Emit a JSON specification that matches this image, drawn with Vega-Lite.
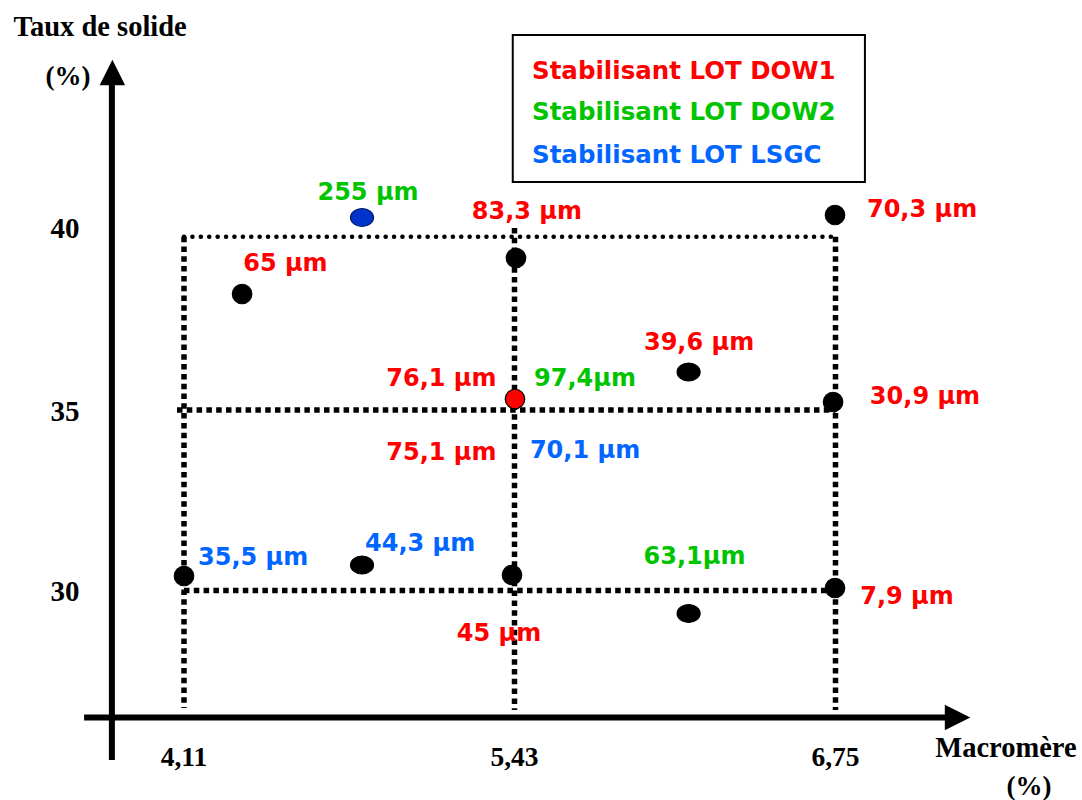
{
  "$schema": "https://vega.github.io/schema/vega-lite/v6.json",
  "width": 1082,
  "height": 800,
  "autosize": "none",
  "padding": 0,
  "background": "white",
  "config": {"view": {"stroke": null}},
  "datasets": {
    "axes": [
      {"x": 3.822, "y": 44.377, "x2": 3.822, "y2": 25.305},
      {"x": 3.711, "y": 26.482, "x2": 7.204, "y2": 26.482}
    ],
    "fleches": [
      {"x": 3.824, "y": 44.737, "sens": "haut"},
      {"x": 7.252, "y": 26.482, "sens": "droite"}
    ],
    "pointilles": [
      {"x": 4.11, "y": 40, "x2": 6.75, "y2": 40}
    ],
    "tirets": [
      {"x": 4.082, "y": 35, "x2": 6.75, "y2": 35},
      {"x": 4.11, "y": 30, "x2": 6.75, "y2": 30},
      {"x": 4.11, "y": 40, "x2": 4.11, "y2": 26.745},
      {"x": 5.43, "y": 40.251, "x2": 5.43, "y2": 26.69},
      {"x": 6.75, "y": 40, "x2": 6.75, "y2": 26.69}
    ],
    "points": [
      {"x": 4.342, "y": 38.347, "forme": "rond", "lot": "aucun"},
      {"x": 4.821, "y": 40.554, "forme": "ovale", "lot": "LSGC"},
      {"x": 5.436, "y": 39.385, "forme": "rond", "lot": "aucun"},
      {"x": 6.748, "y": 40.626, "forme": "rond", "lot": "aucun"},
      {"x": 6.146, "y": 36.096, "forme": "ovale", "lot": "aucun"},
      {"x": 5.432, "y": 35.317, "forme": "rond", "lot": "DOW1"},
      {"x": 6.740, "y": 35.231, "forme": "rond", "lot": "aucun"},
      {"x": 4.11, "y": 30.402, "forme": "rond", "lot": "aucun"},
      {"x": 4.821, "y": 30.706, "forme": "ovale", "lot": "aucun"},
      {"x": 5.420, "y": 30.429, "forme": "rond", "lot": "aucun"},
      {"x": 6.146, "y": 29.363, "forme": "ovale", "lot": "aucun"},
      {"x": 6.748, "y": 30.069, "forme": "rond", "lot": "aucun"}
    ],
    "etiquettes": [
      {"x": 4.515, "y": 39.256, "texte": "65 µm", "lot": "DOW1"},
      {"x": 4.845, "y": 41.290, "texte": "255 µm", "lot": "DOW2"},
      {"x": 5.481, "y": 40.770, "texte": "83,3 µm", "lot": "DOW1"},
      {"x": 7.106, "y": 40.828, "texte": "70,3 µm", "lot": "DOW1"},
      {"x": 6.189, "y": 36.962, "texte": "39,6 µm", "lot": "DOW1"},
      {"x": 7.118, "y": 35.404, "texte": "30,9 µm", "lot": "DOW1"},
      {"x": 5.138, "y": 35.952, "texte": "76,1 µm", "lot": "DOW1"},
      {"x": 5.720, "y": 35.952, "texte": "97,4µm", "lot": "DOW2"},
      {"x": 5.138, "y": 33.864, "texte": "75,1 µm", "lot": "DOW1"},
      {"x": 5.720, "y": 33.906, "texte": "70,1 µm", "lot": "LSGC"},
      {"x": 4.386, "y": 30.928, "texte": "35,5 µm", "lot": "LSGC"},
      {"x": 5.053, "y": 31.343, "texte": "44,3 µm", "lot": "LSGC"},
      {"x": 5.368, "y": 28.823, "texte": "45 µm", "lot": "DOW1"},
      {"x": 6.170, "y": 30.983, "texte": "63,1µm", "lot": "DOW2"},
      {"x": 7.044, "y": 29.875, "texte": "7,9 µm", "lot": "DOW1"}
    ],
    "cadre": [
      {"x": 5.423, "y": 45.819, "x2": 6.871, "y2": 41.578}
    ],
    "legende": [
      {"x": 5.502, "y": 44.781, "texte": "Stabilisant LOT DOW1", "lot": "DOW1"},
      {"x": 5.502, "y": 43.598, "texte": "Stabilisant LOT DOW2", "lot": "DOW2"},
      {"x": 5.502, "y": 42.386, "texte": "Stabilisant LOT LSGC", "lot": "LSGC"}
    ],
    "titres": [
      {"x": 3.775, "y": 46.050, "texte": "Taux de solide", "taille": "grand"},
      {"x": 3.647, "y": 44.608, "texte": "(%)", "taille": "moyen"},
      {"x": 7.451, "y": 25.637, "texte": "Macromère", "taille": "grand"},
      {"x": 7.546, "y": 24.557, "texte": "(%)", "taille": "moyen"}
    ],
    "graduations": [
      {"x": 4.11, "y": 25.360, "texte": "4,11", "axe": "x"},
      {"x": 5.43, "y": 25.360, "texte": "5,43", "axe": "x"},
      {"x": 6.75, "y": 25.360, "texte": "6,75", "axe": "x"},
      {"x": 3.635, "y": 40.208, "texte": "40", "axe": "y"},
      {"x": 3.635, "y": 34.945, "texte": "35", "axe": "y"},
      {"x": 3.635, "y": 29.958, "texte": "30", "axe": "y"}
    ]
  },
  "encoding": {
    "x": {"field": "x", "type": "quantitative", "axis": null,
          "scale": {"domain": [4.11, 5.43, 6.75], "range": [184, 514.5, 835.5], "zero": false, "nice": false}},
    "y": {"field": "y", "type": "quantitative", "axis": null,
          "scale": {"domain": [30, 35, 40], "range": [590.5, 410, 236.7], "zero": false, "nice": false}}
  },
  "layer": [
    {
      "data": {"name": "axes"},
      "mark": {"type": "rule", "strokeWidth": 6, "color": "#000000"},
      "encoding": {"x2": {"field": "x2"}, "y2": {"field": "y2"}}
    },
    {
      "data": {"name": "pointilles"},
      "mark": {"type": "rule", "strokeWidth": 4.5, "strokeDash": [0.1, 8.3], "strokeCap": "round", "color": "#000000"},
      "encoding": {"x2": {"field": "x2"}, "y2": {"field": "y2"}}
    },
    {
      "data": {"name": "tirets"},
      "mark": {"type": "rule", "strokeWidth": 5.5, "strokeDash": [5.5, 4.3], "strokeCap": "butt", "color": "#000000"},
      "encoding": {"x2": {"field": "x2"}, "y2": {"field": "y2"}}
    },
    {
      "data": {"name": "fleches"},
      "transform": [{"filter": "datum.sens === 'haut'"}],
      "mark": {"type": "point", "shape": "M0,-1L-1,1L1,1Z", "size": 650, "filled": true, "color": "#000000", "opacity": 1}
    },
    {
      "data": {"name": "fleches"},
      "transform": [{"filter": "datum.sens === 'droite'"}],
      "mark": {"type": "point", "shape": "M1,0L-1,-1L-1,1Z", "size": 650, "filled": true, "color": "#000000", "opacity": 1}
    },
    {
      "data": {"name": "points"},
      "transform": [{"filter": "datum.forme === 'rond'"}],
      "mark": {"type": "point", "shape": "circle", "size": 380, "filled": true, "strokeWidth": 1.2, "opacity": 1},
      "encoding": {
        "fill": {"field": "lot", "type": "nominal", "legend": null,
                 "scale": {"domain": ["aucun", "DOW1", "LSGC"], "range": ["#000000", "#ff0000", "#0033cc"]}},
        "stroke": {"field": "lot", "type": "nominal", "legend": null,
                 "scale": {"domain": ["aucun", "DOW1", "LSGC"], "range": ["#000000", "#000000", "#001a66"]}}
      }
    },
    {
      "data": {"name": "points"},
      "transform": [{"filter": "datum.forme === 'ovale'"}],
      "mark": {"type": "point", "shape": "M-1.15,0C-1.15,-0.497,-0.635,-0.9,0,-0.9C0.635,-0.9,1.15,-0.497,1.15,0C1.15,0.497,0.635,0.9,0,0.9C-0.635,0.9,-1.15,0.497,-1.15,0Z", "size": 400, "filled": true, "strokeWidth": 1.2, "opacity": 1},
      "encoding": {
        "fill": {"field": "lot", "type": "nominal", "legend": null,
                 "scale": {"domain": ["aucun", "DOW1", "LSGC"], "range": ["#000000", "#ff0000", "#0033cc"]}},
        "stroke": {"field": "lot", "type": "nominal", "legend": null,
                 "scale": {"domain": ["aucun", "DOW1", "LSGC"], "range": ["#000000", "#000000", "#001a66"]}}
      }
    },
    {
      "data": {"name": "cadre"},
      "mark": {"type": "rect", "fill": "#ffffff", "stroke": "#000000", "strokeWidth": 2},
      "encoding": {"x2": {"field": "x2"}, "y2": {"field": "y2"}}
    },
    {
      "data": {"name": "etiquettes"},
      "mark": {"type": "text", "font": "DejaVu Sans", "fontWeight": "bold", "fontSize": 24, "align": "center", "baseline": "middle", "dy": 1.5},
      "encoding": {
        "text": {"field": "texte"},
        "color": {"field": "lot", "type": "nominal", "legend": null,
                  "scale": {"domain": ["DOW1", "DOW2", "LSGC"], "range": ["#ff0000", "#00c400", "#0066ff"]}}
      }
    },
    {
      "data": {"name": "legende"},
      "mark": {"type": "text", "font": "DejaVu Sans", "fontWeight": "bold", "fontSize": 24.5, "align": "left", "baseline": "middle", "dy": 1.5},
      "encoding": {
        "text": {"field": "texte"},
        "color": {"field": "lot", "type": "nominal", "legend": null,
                  "scale": {"domain": ["DOW1", "DOW2", "LSGC"], "range": ["#ff0000", "#00c400", "#0066ff"]}}
      }
    },
    {
      "data": {"name": "titres"},
      "transform": [{"filter": "datum.taille === 'grand'"}],
      "mark": {"type": "text", "font": "Liberation Serif", "fontWeight": "bold", "fontSize": 28.5, "align": "center", "baseline": "middle", "color": "#000000"},
      "encoding": {"text": {"field": "texte"}}
    },
    {
      "data": {"name": "titres"},
      "transform": [{"filter": "datum.taille === 'moyen'"}],
      "mark": {"type": "text", "font": "Liberation Serif", "fontWeight": "bold", "fontSize": 27, "align": "center", "baseline": "middle", "color": "#000000"},
      "encoding": {"text": {"field": "texte"}}
    },
    {
      "data": {"name": "graduations"},
      "transform": [{"filter": "datum.axe === 'x'"}],
      "mark": {"type": "text", "font": "Liberation Serif", "fontWeight": "bold", "fontSize": 27.5, "align": "center", "baseline": "middle", "color": "#000000"},
      "encoding": {"text": {"field": "texte"}}
    },
    {
      "data": {"name": "graduations"},
      "transform": [{"filter": "datum.axe === 'y'"}],
      "mark": {"type": "text", "font": "Liberation Serif", "fontWeight": "bold", "fontSize": 29, "align": "center", "baseline": "middle", "color": "#000000"},
      "encoding": {"text": {"field": "texte"}}
    }
  ]
}
